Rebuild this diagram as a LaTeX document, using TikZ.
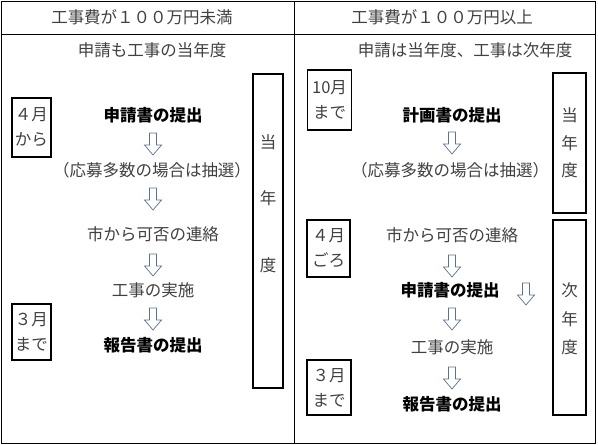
\documentclass[tikz,border=0pt]{standalone}
\usepackage{fontspec}
\newfontfamily\jp{Noto Sans CJK JP}
\definecolor{txtgray}{HTML}{404040}
\definecolor{arrowc}{HTML}{5B7290}
\tikzset{
  lbl/.style={font=\jp\fontsize{16.5}{20}\selectfont, text=txtgray, inner sep=0pt},
  blbl/.style={font=\jp\bfseries\fontsize{16.5}{20}\selectfont, text=black, inner sep=0pt},
  monthbox/.style={draw=black, line width=1.1pt, font=\jp\fontsize{16.5}{25}\selectfont, text=txtgray, align=center, inner sep=0pt, minimum width=#1},
  yearbox/.style={draw=black, line width=1.1pt},
  tbl/.style={draw=black, line width=0.9pt},
  downarr/.pic={\draw[arrowc, line width=0.7pt, fill=white] (-3.5,-11) -- (3.5,-11) -- (3.5,1) -- (8.5,1) -- (0,11) -- (-8.5,1) -- (-3.5,1) -- cycle;}
}
\begin{document}
\begin{tikzpicture}[x=1pt,y=-1pt]
\useasboundingbox (0,0) rectangle (598,445);
% table
\draw[tbl] (1,1) rectangle (595,443);
\draw[tbl] (1,34) -- (595,34);
\draw[tbl] (294.5,1) -- (294.5,443);
\node[lbl] (h1) at (142,17) {工事費が１００万円未満};
\node[lbl] (h2) at (442,17) {工事費が１００万円以上};
\node[lbl] (s1) at (152,50) {申請も工事の当年度};
\node[lbl] (s2) at (465,50) {申請は当年度、工事は次年度};
% left column
\node[monthbox=39pt, minimum height=59pt] (m1) at (31.5,127.5) {４月\\から};
\node[monthbox=39pt, minimum height=56pt] (m2) at (31.5,332) {３月\\まで};
\node[blbl] (l1) at (153,115) {申請書の提出};
\node[lbl] (l2) at (152,170) {（応募多数の場合は抽選）};
\node[lbl] (l3) at (153,234) {市から可否の連絡};
\node[lbl] (l4) at (153,290) {工事の実施};
\node[blbl] (l5) at (153,345) {報告書の提出};
\pic at (153,144) {downarr};
\pic at (153,199) {downarr};
\pic at (153,265) {downarr};
\pic at (153,319) {downarr};
\node[yearbox, minimum width=30pt, minimum height=314pt, inner sep=0pt] (y1) at (268,231) {};
\node[lbl] (y1a) at (268,142) {当};
\node[lbl] (y1b) at (268,198) {年};
\node[lbl] (y1c) at (268,265) {度};
% right column
\node[monthbox=44pt, minimum height=60pt] (m3) at (329.5,100) {10月\\まで};
\node[monthbox=43pt, minimum height=57pt] (m4) at (328.5,248.5) {４月\\ごろ};
\node[monthbox=44pt, minimum height=55pt] (m5) at (329,387.5) {３月\\まで};
\node[blbl] (r1) at (452,115) {計画書の提出};
\node[lbl] (r2) at (450,170) {（応募多数の場合は抽選）};
\node[lbl] (r3) at (452,235) {市から可否の連絡};
\node[blbl] (r4) at (450,290) {申請書の提出};
\node[lbl] (r5) at (452,347) {工事の実施};
\node[blbl] (r6) at (452,404) {報告書の提出};
\pic at (452,143) {downarr};
\pic at (452,266) {downarr};
\pic at (526,294) {downarr};
\pic at (452,319) {downarr};
\pic at (452,378) {downarr};
\node[yearbox, minimum width=33pt, minimum height=140pt, inner sep=0pt] (y2) at (569.5,143) {};
\node[lbl] (y2a) at (569.5,115) {当};
\node[lbl] (y2b) at (569.5,143) {年};
\node[lbl] (y2c) at (569.5,170) {度};
\node[yearbox, minimum width=33pt, minimum height=195pt, inner sep=0pt] (y3) at (569.5,317.5) {};
\node[lbl] (y3a) at (569.5,290) {次};
\node[lbl] (y3b) at (569.5,319) {年};
\node[lbl] (y3c) at (569.5,347) {度};
\end{tikzpicture}
\end{document}
